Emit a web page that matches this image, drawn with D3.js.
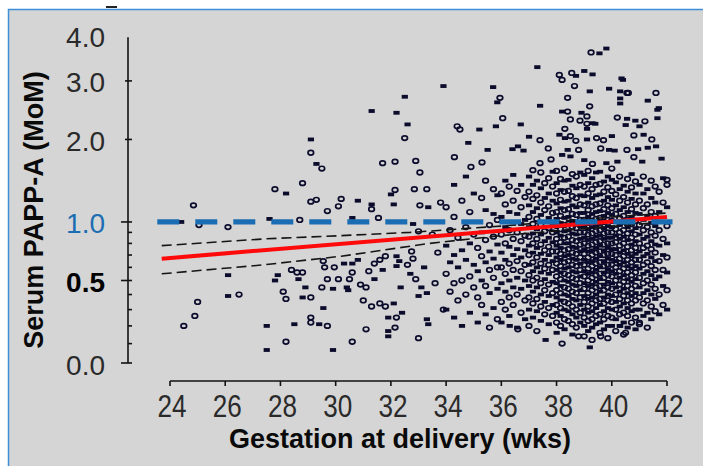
<!DOCTYPE html>
<html><head><meta charset="utf-8">
<script src="https://cdn.jsdelivr.net/npm/d3@7"></script>
<style>html,body{margin:0;padding:0;background:#fff;}svg{display:block;}</style>
</head><body>
<script>
// ---------- DATA ----------
const xTickValues = [24, 26, 28, 30, 32, 34, 36, 38, 40, 42];
const yLabelValues = [0, 0.5, 1, 2, 3, 4];
const yLabelText = ["0.0", "0.5", "1.0", "2.0", "3.0", "4.0"];
const yMinorValues = [0.1, 0.2, 0.3, 0.4, 0.6, 0.7, 0.8, 0.9];
const referenceMoM = 1.0;
const regressionLine = [[23.7, 0.67], [42, 1.05]];
const ciUpper = [[23.7, 0.78], [27.4, 0.84], [30.2, 0.87], [32.7, 0.90], [36, 0.96], [39.6, 1.04], [42, 1.09]];
const ciLower = [[23.7, 0.55], [27.4, 0.62], [30.2, 0.69], [33.4, 0.80], [36, 0.87], [39.6, 0.95], [42, 1.00]];

// sparse points read individually [weeks, MoM]
const filledPoints = [
[24.4,1.0],[26.1,0.54],[26.1,0.39],[27.6,1.03],[28.2,1.30],[27.5,0.2],[27.5,0.066],[27.9,0.54],[27.8,0.50],
[28.65,0.51],[28.9,0.45],[28.8,0.38],[28.5,0.21],[29.4,0.21],[29.9,0.066],[29.55,0.31],[29.1,2.0],[29.3,1.66],
[30.8,1.22],[30.6,1.04],[31.3,1.18],[31.3,2.45],[32.2,2.42],[32.5,2.7],[32.6,2.23],[32.0,1.29],[32.1,1.18],
[33.35,1.15],[32.8,0.98],[30.3,0.63],[30.6,0.63],[30.8,0.66],[29.9,0.44],[30.4,0.45],[30.45,0.43],[32.1,0.34],
[31.9,0.25],[32.4,0.28],[31.9,0.17],[31.9,0.14],[31.4,0.51],[31.7,0.58],[32.2,0.69],[32.3,0.65],[32.2,0.61],
[32.7,0.55],[33.2,0.6],[33.1,0.45],[33.3,0.41],[33.0,0.39],[32.35,0.45],[33.3,0.24],[33.35,0.21],
[33.9,2.9],[34.8,1.95],[35.7,2.88],[35.85,2.6],[35.5,1.85],
[39.55,3.58],[39.8,3.69],[37.3,3.28],[38.7,3.1],[39.0,3.2],[39.3,3.13],[40.35,3.05],[39.2,2.8],[39.9,2.85],
[40.3,2.8],[40.3,2.58],[40.3,2.67],[41.3,2.63],[37.4,2.54],[38.2,2.44],[38.9,2.42],[39.3,2.25],[39.4,2.24],
[40.55,2.32],[40.85,2.29],[41.65,2.33],[41.65,2.47],[35.2,2.15],[35.8,2.2],[36.7,2.23],[39.1,2.16],[40.5,2.22],
[41.0,2.2],[37.0,2.04],[38.1,2.07],[38.3,2.02],[39.1,2.0],[40.0,2.05],[41.15,2.07],[41.6,1.9],[36.4,1.86],
[36.6,1.9],[36.8,1.84],[38.4,1.85],[39.9,1.85],[40.1,1.84],[40.95,1.86],[41.3,1.88],[38.2,1.78],[38.5,1.76],
[39.0,1.71],[39.8,1.67],[40.2,1.69],[41.1,1.69],[41.8,1.73],[41.7,2.5],[40.4,3.02],
[37.6,0.12],[39.2,0.08],[40.3,0.2],[36.3,0.2]
];
const openPoints = [
[24.85,1.17],[25.05,0.97],[26.1,0.95],[25.0,0.35],[24.9,0.26],[24.5,0.2],[26.5,0.40],[27.8,1.35],[28.2,0.11],
[28.1,0.42],[28.2,0.37],[28.4,0.58],[28.6,0.56],[28.8,0.56],[29.1,0.38],[29.1,0.25],[29.1,0.22],[29.7,0.2],
[29.1,1.81],[29.5,1.60],[28.8,1.42],[29.1,1.21],[29.3,1.23],[29.7,1.11],[30.1,1.16],[30.2,1.24],[28.7,1.02],
[31.3,1.13],[31.55,1.04],[32.5,2.02],[31.7,1.67],[32.15,1.69],[32.9,1.7],[33.05,1.55],[32.15,1.34],[32.85,1.35],
[33.3,1.35],[33.05,1.17],[33.0,0.91],[29.55,0.65],[29.6,0.6],[29.95,0.6],[30.6,0.56],[30.5,0.51],[30.1,0.51],
[29.7,0.51],[29.5,0.45],[30.9,0.47],[31.1,0.45],[31.0,0.36],[31.3,0.32],[31.6,0.34],[31.8,0.32],[32.2,0.25],
[32.15,0.19],[31.1,0.18],[30.6,0.11],[33.0,0.13],[31.2,0.57],[31.4,0.63],[31.6,0.66],[31.8,0.69],[32.6,0.62],
[32.9,0.51],[32.75,0.73],[32.8,0.67],
[34.5,2.15],[34.3,1.75],[35.3,1.68],[34.9,1.62],[34.4,2.2],
[39.25,3.6],[38.1,3.12],[38.2,3.02],[38.55,3.16],[38.65,2.9],[40.55,2.77],[40.6,2.77],[41.6,2.77],[38.4,2.68],
[38.4,2.44],[39.2,2.53],[39.1,2.36],[38.5,2.31],[38.85,2.29],[39.1,2.24],[40.2,2.34],[41.2,2.28],[38.3,2.16],
[35.95,2.68],[36.05,2.33],[37.4,1.99],[38.5,2.05],[38.7,1.98],[39.45,2.02],[39.7,1.99],[40.8,2.06],[41.45,2.0],
[37.7,1.87],[38.8,1.85],[39.6,1.87],[40.55,1.85],[37.4,1.67],[37.8,1.72],[39.3,1.66],[40.8,1.75],[42.0,1.46],
[33.6,0.48],[33.7,0.72],[33.9,0.3],[33.8,1.2],[33.5,0.88],
[38.2,0.1],[38.8,0.14],[39.6,0.14],[40.5,0.16],[36.6,0.18],[41.0,0.22]
];

// dense region: one column per gestational day, starting at day 238 (34 wks)
const denseStartDay = 238;
const denseMoM = [
[0.3,0.55,0.78,1.15],
[0.42,0.64,0.92],
[0.25,0.48,0.7,1.05,1.4],
[0.36,0.6,0.85],
[0.2,0.5,0.74,1.22],
[0.4,0.66,0.95,1.5],
[0.28,0.53,0.8,1.1],
[0.45,0.62,0.88,1.3],
[0.22,0.38,0.57,0.76,1.0],
[0.33,0.5,0.69,0.9,1.25],
[0.27,0.46,0.64,0.83,1.12,1.45],
[0.19,0.41,0.58,0.73,0.97],
[0.31,0.52,0.67,0.86,1.08,1.35],
[0.24,0.44,0.6,0.79,1.02,1.28],
[0.22,0.35,0.48,0.6,0.72,0.88,1.05,1.3],
[0.3,0.42,0.55,0.66,0.8,0.95,1.18,1.45],
[0.26,0.38,0.5,0.63,0.77,0.92,1.1,1.38],
[0.33,0.45,0.58,0.7,0.84,1.0,1.22,1.52],
[0.19,0.4,0.52,0.65,0.75,0.9,1.08,1.33],
[0.28,0.44,0.57,0.68,0.82,0.98,1.15,1.4],
[0.24,0.36,0.5,0.62,0.74,0.87,1.02,1.26],
[0.2,0.3,0.38,0.46,0.54,0.62,0.7,0.78,0.86,0.95,1.05,1.17,1.32,1.5],
[0.25,0.34,0.42,0.5,0.57,0.64,0.72,0.8,0.89,0.98,1.1,1.24,1.4,1.58],
[0.17,0.29,0.37,0.45,0.52,0.6,0.68,0.76,0.84,0.93,1.03,1.14,1.28,1.45],
[0.23,0.32,0.4,0.48,0.56,0.63,0.71,0.79,0.88,0.97,1.07,1.2,1.36,1.55],
[0.27,0.35,0.43,0.51,0.59,0.66,0.74,0.82,0.91,1.0,1.12,1.25,1.42],
[0.21,0.31,0.39,0.47,0.55,0.62,0.7,0.77,0.85,0.94,1.04,1.16,1.3,1.48],
[0.26,0.33,0.41,0.49,0.58,0.65,0.73,0.81,0.9,0.99,1.09,1.22,1.38,1.56],
[0.16,0.22,0.28,0.33,0.38,0.43,0.48,0.53,0.58,0.63,0.68,0.73,0.78,0.84,0.9,0.96,1.03,1.1,1.19,1.3,1.42,1.57],
[0.2,0.26,0.31,0.36,0.41,0.46,0.51,0.56,0.61,0.66,0.71,0.76,0.81,0.87,0.93,0.99,1.06,1.14,1.23,1.34,1.47],
[0.18,0.24,0.3,0.35,0.4,0.45,0.5,0.55,0.59,0.64,0.69,0.74,0.8,0.85,0.91,0.97,1.04,1.12,1.21,1.32,1.45,1.6],
[0.23,0.29,0.34,0.39,0.44,0.49,0.54,0.6,0.65,0.7,0.75,0.8,0.86,0.92,0.98,1.05,1.13,1.22,1.33,1.46],
[0.15,0.21,0.27,0.32,0.37,0.42,0.47,0.52,0.57,0.62,0.67,0.72,0.77,0.83,0.89,0.95,1.01,1.08,1.17,1.27,1.39,1.53],
[0.19,0.25,0.3,0.36,0.41,0.46,0.51,0.56,0.61,0.66,0.71,0.76,0.82,0.88,0.94,1.0,1.07,1.15,1.25,1.36,1.5],
[0.22,0.28,0.33,0.38,0.43,0.48,0.53,0.58,0.63,0.68,0.73,0.79,0.84,0.9,0.96,1.02,1.09,1.18,1.28,1.4,1.55],
[0.14,0.2,0.25,0.3,0.35,0.39,0.44,0.48,0.53,0.57,0.62,0.66,0.71,0.75,0.8,0.85,0.9,0.96,1.02,1.09,1.17,1.27,1.38,1.52],
[0.17,0.23,0.28,0.32,0.37,0.41,0.46,0.5,0.55,0.59,0.64,0.68,0.73,0.78,0.83,0.88,0.93,0.99,1.05,1.12,1.2,1.3,1.42,1.57],
[0.12,0.19,0.24,0.29,0.34,0.38,0.43,0.47,0.52,0.56,0.61,0.65,0.7,0.74,0.79,0.84,0.89,0.95,1.01,1.08,1.16,1.25,1.35,1.48],
[0.21,0.26,0.31,0.36,0.4,0.45,0.49,0.54,0.58,0.63,0.67,0.72,0.76,0.81,0.86,0.91,0.97,1.03,1.1,1.18,1.28,1.4,1.55],
[0.16,0.22,0.27,0.33,0.37,0.42,0.46,0.51,0.55,0.6,0.64,0.69,0.73,0.78,0.82,0.87,0.92,0.98,1.04,1.11,1.19,1.29,1.41,1.56],
[0.18,0.24,0.29,0.34,0.38,0.43,0.47,0.52,0.56,0.61,0.65,0.7,0.74,0.79,0.84,0.89,0.94,1.0,1.06,1.13,1.22,1.32,1.44],
[0.13,0.2,0.26,0.31,0.36,0.4,0.45,0.49,0.54,0.58,0.62,0.67,0.71,0.76,0.8,0.85,0.9,0.96,1.02,1.09,1.17,1.26,1.37,1.5],
[0.2,0.25,0.3,0.35,0.39,0.44,0.48,0.53,0.57,0.62,0.66,0.71,0.75,0.8,0.85,0.9,0.95,1.01,1.07,1.14,1.23,1.33,1.46,1.6],
[0.17,0.24,0.3,0.35,0.4,0.45,0.5,0.55,0.6,0.65,0.7,0.75,0.81,0.87,0.93,1.0,1.08,1.17,1.29,1.43],
[0.2,0.27,0.32,0.37,0.42,0.47,0.52,0.57,0.62,0.67,0.72,0.78,0.84,0.9,0.97,1.04,1.12,1.22,1.35,1.5],
[0.15,0.22,0.28,0.34,0.39,0.44,0.49,0.54,0.59,0.64,0.69,0.74,0.8,0.86,0.92,0.99,1.06,1.15,1.26,1.39],
[0.19,0.26,0.31,0.36,0.41,0.46,0.51,0.56,0.61,0.66,0.71,0.77,0.83,0.89,0.95,1.02,1.1,1.2,1.32,1.47],
[0.22,0.29,0.34,0.39,0.44,0.49,0.54,0.59,0.64,0.69,0.74,0.79,0.85,0.91,0.98,1.05,1.13,1.24,1.37,1.53],
[0.18,0.25,0.3,0.36,0.41,0.46,0.51,0.56,0.61,0.66,0.71,0.76,0.82,0.88,0.94,1.01,1.09,1.18,1.3,1.44],
[0.21,0.3,0.38,0.45,0.52,0.59,0.66,0.73,0.8,0.88,0.97,1.08,1.22,1.4],
[0.26,0.34,0.41,0.48,0.55,0.62,0.69,0.76,0.84,0.92,1.02,1.14,1.3,1.5],
[0.19,0.28,0.36,0.43,0.5,0.57,0.64,0.71,0.78,0.86,0.95,1.05,1.18,1.35],
[0.24,0.32,0.4,0.47,0.54,0.61,0.68,0.75,0.82,0.9,0.99,1.1,1.25,1.45],
[0.29,0.37,0.44,0.51,0.58,0.65,0.72,0.79,0.87,0.96,1.06,1.2,1.38],
[0.27,0.4,0.53,0.65,0.78,0.92,1.1,1.32],
[0.33,0.46,0.58,0.7,0.84,1.0,1.2,1.48],
[0.3,0.43,0.56,0.68,0.8,0.96,1.15,1.4]
];

// ---------- DRAW ----------
const W = 703, H = 466;
const ink = "#0b0b2c";
const bg = "#d5d5d5";
const svg = d3.select("body").append("svg").attr("width", W).attr("height", H);

svg.append("rect").attr("width", W).attr("height", H).attr("fill", "#ffffff");
svg.append("rect").attr("x", 8).attr("y", 9).attr("width", W - 8).attr("height", H - 9).attr("fill", bg);
svg.append("path").attr("d", `M8.5,${H} V9.5 H${W}`).attr("fill", "none").attr("stroke", "#3f8fd8").attr("stroke-width", 1.5);
svg.append("rect").attr("x", 106).attr("y", 6).attr("width", 11).attr("height", 2).attr("fill", "#222");

const x = d3.scaleLinear().domain([24, 42]).range([170, 667]);
const y = d3.scaleSymlog().constant(1).domain([0, 4]).range([363, 35.5]);

// points
const all = [];
filledPoints.forEach(p => all.push({w: p[0], v: p[1], f: true}));
openPoints.forEach(p => all.push({w: p[0], v: p[1], f: false}));
denseMoM.forEach((col, i) => {
  const w = (denseStartDay + i) / 7;
  col.forEach((v, j) => all.push({w, v, f: (i + j) % 2 === 0}));
});
const pg = svg.append("g");
all.forEach(d => {
  if (d.f) {
    pg.append("rect").attr("x", x(d.w) - 3).attr("y", y(d.v) - 1.9).attr("width", 6.2).attr("height", 3.8).attr("fill", ink);
  } else {
    pg.append("ellipse").attr("cx", x(d.w)).attr("cy", y(d.v)).attr("rx", 2.8).attr("ry", 2.3)
      .attr("fill", "none").attr("stroke", ink).attr("stroke-width", 1.7);
  }
});

const line = d3.line().x(d => x(d[0])).y(d => y(d[1]));
svg.append("path").attr("d", line(ciUpper)).attr("fill", "none").attr("stroke", "#151515").attr("stroke-width", 1.6).attr("stroke-dasharray", "10,5");
svg.append("path").attr("d", line(ciLower)).attr("fill", "none").attr("stroke", "#151515").attr("stroke-width", 1.6).attr("stroke-dasharray", "10,5");
svg.append("path").attr("d", line(regressionLine)).attr("fill", "none").attr("stroke", "#ff0a0a").attr("stroke-width", 4);
svg.append("line").attr("x1", x(23.54)).attr("x2", x(42.2)).attr("y1", y(referenceMoM)).attr("y2", y(referenceMoM))
  .attr("stroke", "#1b6db3").attr("stroke-width", 5.3).attr("stroke-dasharray", "22,16");

// y axis
const ax = 128;
svg.append("line").attr("x1", ax).attr("x2", ax).attr("y1", y(3.96)).attr("y2", y(0)).attr("stroke", "#111").attr("stroke-width", 1.6);
yLabelValues.forEach((v, i) => {
  if (v < 4) {
    const big = (v <= 1);
    svg.append("line").attr("x1", big ? ax - 7 : ax - 3).attr("x2", ax + 4).attr("y1", y(v)).attr("y2", y(v)).attr("stroke", "#111").attr("stroke-width", 1.6);
  }
  const t = svg.append("text").attr("x", 105).attr("y", y(v) + 2).attr("text-anchor", "end")
    .attr("dominant-baseline", "central").attr("font-family", "Liberation Sans, Arial, sans-serif")
    .attr("font-size", 28).text(yLabelText[i]);
  if (v === 1) t.attr("fill", "#1b6db3");
  else if (v === 0.5) t.attr("fill", "#000").attr("font-weight", "bold");
  else t.attr("fill", "#2a2a2a");
});
yMinorValues.forEach(v => {
  svg.append("line").attr("x1", ax).attr("x2", ax + 4).attr("y1", y(v)).attr("y2", y(v)).attr("stroke", "#111").attr("stroke-width", 1.6);
});

// x axis
const ay = 381;
svg.append("line").attr("x1", x(24)).attr("x2", x(42)).attr("y1", ay).attr("y2", ay).attr("stroke", "#111").attr("stroke-width", 1.6);
xTickValues.forEach(v => {
  svg.append("line").attr("x1", x(v)).attr("x2", x(v)).attr("y1", ay).attr("y2", ay + 5).attr("stroke", "#111").attr("stroke-width", 1.6);
  svg.append("text").attr("x", x(v) + 2).attr("y", 417).attr("text-anchor", "middle")
    .attr("font-family", "Liberation Sans, Arial, sans-serif").attr("font-size", 32)
    .attr("textLength", 29).attr("lengthAdjust", "spacingAndGlyphs").attr("fill", "#2a2a2a").text(String(v));
});

// titles
svg.append("text").attr("x", 400).attr("y", 448).attr("text-anchor", "middle")
  .attr("font-family", "Liberation Sans, Arial, sans-serif").attr("font-size", 27).attr("font-weight", "bold")
  .attr("fill", "#0a0a0a").text("Gestation at delivery (wks)");
svg.append("text").attr("transform", "translate(43,210) rotate(-90)").attr("text-anchor", "middle")
  .attr("font-family", "Liberation Sans, Arial, sans-serif").attr("font-size", 27).attr("font-weight", "bold")
  .attr("fill", "#0a0a0a").text("Serum PAPP-A (MoM)");
</script>
</body></html>
